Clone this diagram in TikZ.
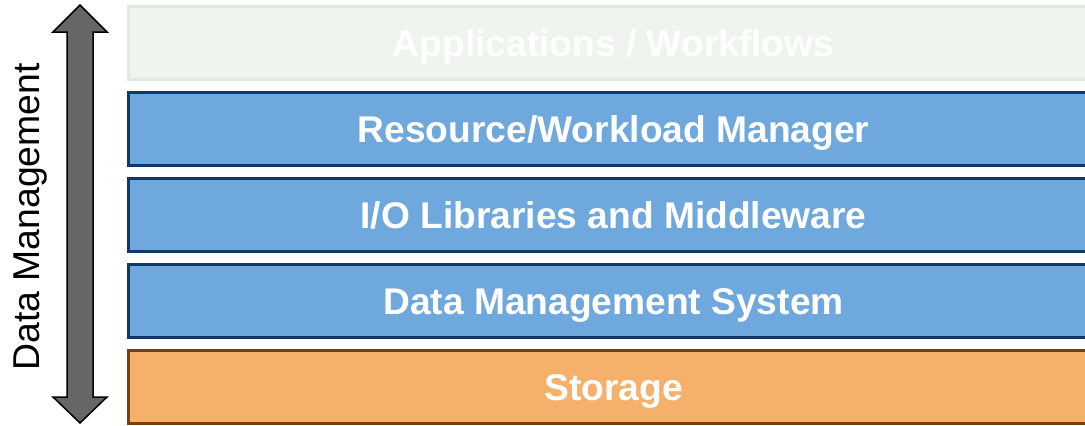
\documentclass[tikz,border=0pt]{standalone}
\usepackage{fontspec}
\setmainfont{Liberation Sans}
\definecolor{layerblue}{HTML}{6FA8DC}
\definecolor{layerblueline}{HTML}{0F3A68}
\definecolor{layerorange}{HTML}{F5B16C}
\definecolor{layerorangeline}{HTML}{7A400C}
\definecolor{layerfaded}{HTML}{EFF4EE}
\definecolor{layerfadedline}{HTML}{E2E9DE}
\definecolor{arrowgrey}{HTML}{666666}
\tikzset{
  layer/.style={draw, line width=3bp, minimum width=970bp, minimum height=73bp,
    inner sep=0pt, text=white, text height=27.5bp, text depth=0pt,
    font=\fontsize{37.3}{40}\selectfont\bfseries, anchor=north west},
  bluelayer/.style={layer, fill=layerblue, draw=layerblueline},
  orangelayer/.style={layer, fill=layerorange, draw=layerorangeline},
  fadedlayer/.style={layer, fill=layerfaded, draw=layerfadedline},
}
\begin{document}
\begin{tikzpicture}[x=1bp,y=-1bp]
\useasboundingbox (0,0) rectangle (1085,425);
\clip (0,0) rectangle (1085,425);
% stacked layers (anchors sit on the outer edge of the border)
\node[fadedlayer]  (apps)    at (127,5)   {Applications / Workflows};
\node[bluelayer]   (rm)      at (127,91)  {Resource/Workload Manager};
\node[bluelayer]   (io)      at (127,177) {I/O Libraries and Middleware};
\node[bluelayer]   (dms)     at (127,263) {Data Management System};
\node[orangelayer] (storage) at (127,349) {Storage};
% double-headed arrow spanning the layers
\draw[line width=1.5bp, fill=arrowgrey, line join=miter]
  (80,5) -- (107,32) -- (93,32) -- (93,397) -- (107,397) -- (80,423)
  -- (53,397) -- (67,397) -- (67,32) -- (53,32) -- cycle;
\node[rotate=90, font=\fontsize{37.5}{40}\selectfont, inner sep=0pt] (label) at (31,217) {Data Management};
\end{tikzpicture}
\end{document}
